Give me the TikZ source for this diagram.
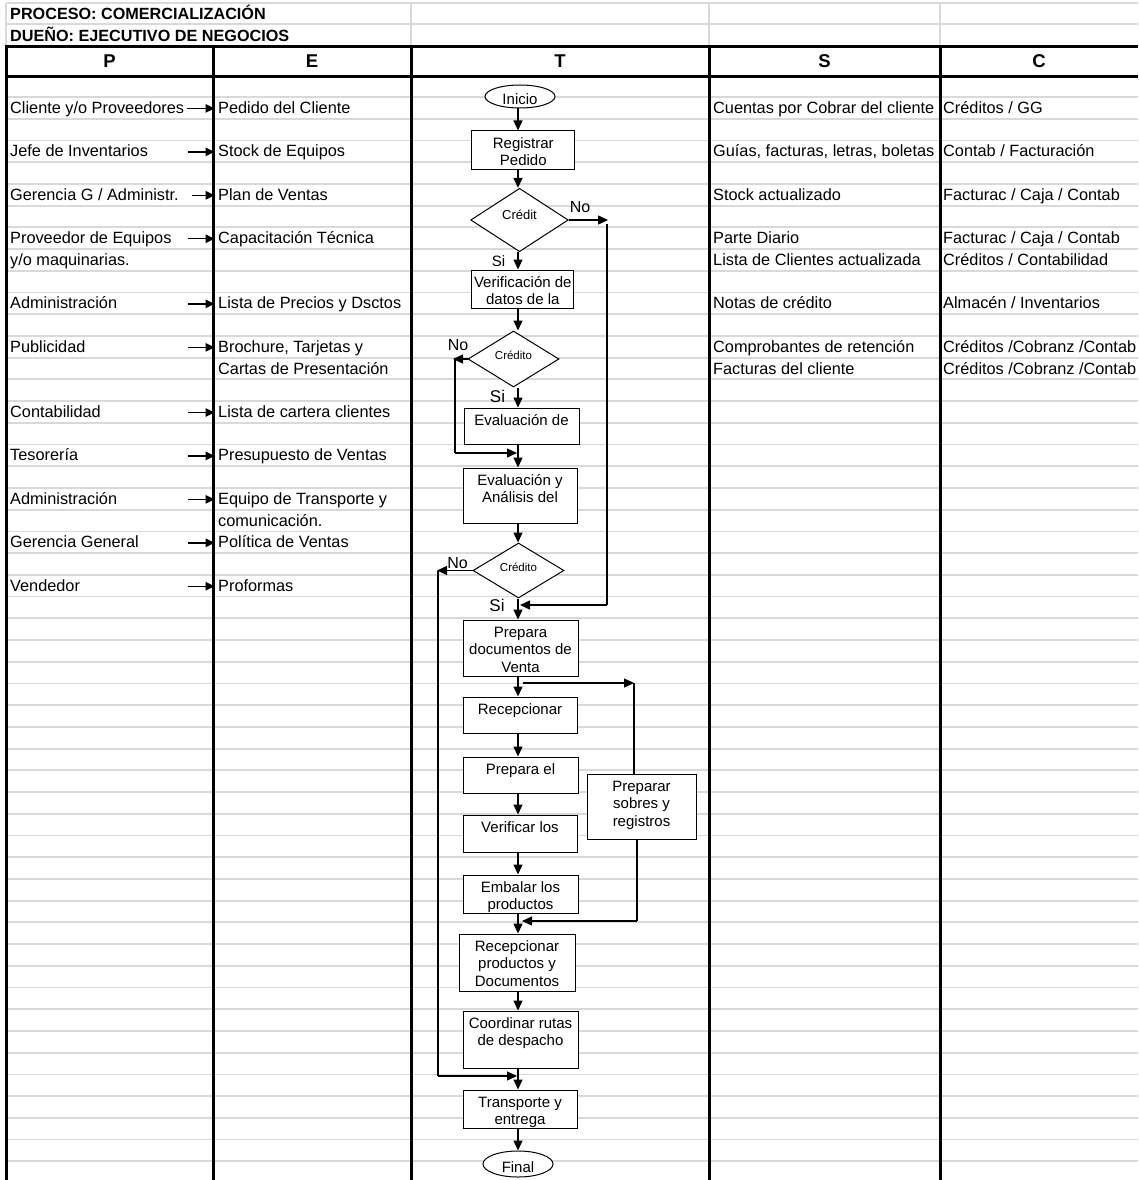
\documentclass[tikz,border=0pt]{standalone}
\usepackage{fontspec}
\setmainfont{Liberation Sans}
\usetikzlibrary{arrows.meta,shapes.geometric,calc}
\definecolor{gridc}{RGB}{217,217,217}
\tikzset{
  gridl/.style={draw=gridc, line width=1.8pt},
  thickl/.style={draw=black, line width=3pt},
  cellt/.style={anchor=base west, inner sep=0pt, font=\fontsize{16.3}{19}\selectfont},
  titlet/.style={anchor=base west, inner sep=0pt, font=\bfseries\fontsize{16.2}{19}\selectfont},
  headt/.style={anchor=base, inner sep=0pt, font=\bfseries\fontsize{18.5}{22}\selectfont},
  parr/.style={line width=1.4pt, -{Triangle[length=9pt,width=8.5pt]}, shorten >=3.5pt},
  box/.style={draw, fill=white, line width=1pt, inner sep=0pt},
  btxt/.style={font=\fontsize{15}{17.5}\selectfont, align=center, inner sep=0pt, anchor=north},
  dia/.style={diamond, draw, fill=white, line width=1pt, inner sep=0pt},
  ell/.style={ellipse, draw, fill=white, line width=1pt, inner sep=0pt},
  etxt/.style={font=\fontsize{15}{17.5}\selectfont, inner sep=0pt},
  dtxt/.style={inner sep=0pt},
  arr/.style={line width=1.4pt, -{Triangle[length=10pt,width=9pt]}},
  ln/.style={line width=1.4pt},
  lab/.style={inner sep=0pt, font=\fontsize{16}{19}\selectfont},
}
\newcommand\prow[5]{%
  \node[cellt] (p#1) at (10,{97+21.72*(#2+1)-5.3}) {#3};
  \node[cellt] (e#1) at (218,{97+21.72*(#2+1)-5.3}) {#4};
  \coordinate (a#1) at (#5,{97+21.72*(#2+1)-10.3});
  \draw[parr] (a#1) -- (a#1 -| e#1.west);
}
\newcommand\srow[4]{%
  \node[cellt] (s#1) at (713,{97+21.72*(#2+1)-5.3}) {#3};
  \node[cellt] (c#1) at (943,{97+21.72*(#2+1)-5.3}) {#4};
}
\begin{document}
\begin{tikzpicture}[x=1pt,y=-1pt]
\useasboundingbox (0,0) rectangle (1138,1180);
\fill[white] (0,0) rectangle (1138,1180);
% grid lines
\foreach \k in {0,...,49} \draw[gridl] (6,{97+21.72*\k}) -- (1138,{97+21.72*\k});
\draw[gridl] (6,3) -- (1138,3);
\draw[gridl] (6,24) -- (1138,24);
\foreach \xx in {6,411,709,940} \draw[gridl] (\xx,3) -- (\xx,47);
% thick lines
\draw[thickl] (4.5,47) -- (1138,47);
\draw[thickl] (4.5,76.5) -- (1138,76.5);
\foreach \xx in {6,213,411,709,940} \draw[thickl] (\xx,47) -- (\xx,1180);
% titles
\node[titlet] (t1) at (10,20) {PROCESO: COMERCIALIZACIÓN};
\node[titlet] (t2) at (10,41.5) {DUEÑO: EJECUTIVO DE NEGOCIOS};
\node[headt] (hP) at (109.5,68) {P};
\node[headt] (hE) at (312,68) {E};
\node[headt] (hT) at (560,68) {T};
\node[headt] (hS) at (824.5,68) {S};
\node[headt] (hC) at (1039,68) {C};
% P and E columns
\prow{0}{0}{Cliente y/o Proveedores}{Pedido del Cliente}{186.5}
\prow{1}{2}{Jefe de Inventarios}{Stock de Equipos}{188}
\prow{2}{4}{Gerencia G / Administr.}{Plan de Ventas}{191.5}
\prow{3}{6}{Proveedor de Equipos}{Capacitación Técnica}{188}
\node[cellt] (p3b) at (10,{97+21.72*8-5.3}) {y/o maquinarias.};
\prow{4}{9}{Administración}{Lista de Precios y Dsctos}{188}
\prow{5}{11}{Publicidad}{Brochure, Tarjetas y}{188}
\node[cellt] (e5b) at (218,{97+21.72*13-5.3}) {Cartas de Presentación};
\prow{6}{14}{Contabilidad}{Lista de cartera clientes}{188}
\prow{7}{16}{Tesorería}{Presupuesto de Ventas}{188}
\prow{8}{18}{Administración}{Equipo de Transporte y}{188}
\node[cellt] (e8b) at (218,{97+21.72*20-5.3}) {comunicación.};
\prow{9}{20}{Gerencia General}{Política de Ventas}{188}
\prow{10}{22}{Vendedor}{Proformas}{188}
% S and C columns
\srow{0}{0}{Cuentas por Cobrar del cliente}{Créditos / GG}
\srow{1}{2}{Guías, facturas, letras, boletas}{Contab / Facturación}
\srow{2}{4}{Stock actualizado}{Facturac / Caja / Contab}
\srow{3}{6}{Parte Diario}{Facturac / Caja / Contab}
\srow{4}{7}{Lista de Clientes actualizada}{Créditos / Contabilidad}
\srow{5}{9}{Notas de crédito}{Almacén / Inventarios}
\srow{6}{11}{Comprobantes de retención}{Créditos /Cobranz /Contab}
\srow{7}{12}{Facturas del cliente}{Créditos /Cobranz /Contab}
% flowchart shapes
\coordinate (mx) at (518,0);
\node[ell, minimum width=70, minimum height=23] (ini) at (520,96.5) {};
\node[etxt] (init) at (520,99) {Inicio};
\node[box, minimum width=103, minimum height=38] (reg) at (523.3,150) {};
\node[btxt] (regt) at ([yshift=-5.5pt]reg.north) {\strut Registrar\\Pedido};
\node[dia, minimum width=97.6, minimum height=63.4] (d1) at (519.5,220) {};
\node[dtxt, font=\fontsize{13}{15}\selectfont] (d1t) at (519.5,215) {Crédit};
\node[box, minimum width=102.3, minimum height=38] (ver) at (522.8,289) {};
\node[btxt] (vert) at ([yshift=-5.5pt]ver.north) {\strut Verificación de\\datos de la};
\node[dia, minimum width=91, minimum height=56] (d2) at (513.5,359) {};
\node[dtxt, font=\fontsize{11.5}{13}\selectfont] (d2t) at (513.5,355) {Crédito};
\node[box, minimum width=115, minimum height=36] (eva) at (521.5,426) {};
\node[btxt] (evat) at ([yshift=-5.5pt]eva.north) {\strut Evaluación de};
\node[box, minimum width=114, minimum height=55] (ean) at (520,495.5) {};
\node[btxt] (eant) at ([yshift=-5.5pt]ean.north) {\strut Evaluación y\\Análisis del};
\node[dia, minimum width=91, minimum height=55] (d3) at (518.5,570.5) {};
\node[dtxt, font=\fontsize{11.5}{13}\selectfont] (d3t) at (518.5,567) {Crédito};
\node[box, minimum width=115, minimum height=56] (pre) at (520.5,648) {};
\node[btxt] (pret) at ([yshift=-5.5pt]pre.north) {\strut Prepara\\documentos de\\Venta};
\node[box, minimum width=114, minimum height=36] (rec) at (520,715) {};
\node[btxt] (rect) at ([yshift=-5.5pt]rec.north) {\strut Recepcionar};
\node[box, minimum width=115, minimum height=36] (pel) at (520.5,775) {};
\node[btxt] (pelt) at ([yshift=-5.5pt]pel.north) {\strut Prepara el};
\node[box, minimum width=114, minimum height=37] (vlo) at (520,833.5) {};
\node[btxt] (vlot) at ([yshift=-5.5pt]vlo.north) {\strut Verificar los};
\node[box, minimum width=115, minimum height=38] (emb) at (520.5,894) {};
\node[btxt] (embt) at ([yshift=-5.5pt]emb.north) {\strut Embalar los\\productos};
\node[box, minimum width=116, minimum height=57] (rpd) at (517,962.5) {};
\node[btxt] (rpdt) at ([yshift=-5.5pt]rpd.north) {\strut Recepcionar\\productos y\\Documentos};
\node[box, minimum width=115, minimum height=57] (coo) at (520.5,1039.5) {};
\node[btxt] (coot) at ([yshift=-5.5pt]coo.north) {\strut Coordinar rutas\\de despacho};
\node[box, minimum width=114, minimum height=38] (tra) at (520,1109) {};
\node[btxt] (trat) at ([yshift=-5.5pt]tra.north) {\strut Transporte y\\entrega};
\node[ell, minimum width=70, minimum height=26] (fin) at (518,1164) {};
\node[etxt] (fint) at (518,1167) {Final};
\node[box, minimum width=109, minimum height=65] (sob) at (641.5,806.5) {};
\node[btxt] (sobt) at ([yshift=-5.5pt]sob.north) {\strut Preparar\\sobres y\\registros};
% main connectors
\draw[arr] (ini.south -| mx) -- (reg.north -| mx);
\draw[arr] (reg.south -| mx) -- (d1.north -| mx);
\draw[arr] (d1.south -| mx) -- (ver.north -| mx);
\draw[arr] (ver.south -| mx) -- (d2.north -| mx);
\draw[arr] (d2.south -| mx) -- (eva.north -| mx);
\draw[arr] (eva.south -| mx) -- (ean.north -| mx);
\draw[arr] (ean.south -| mx) -- (d3.north -| mx);
\draw[arr] (d3.south -| mx) -- (pre.north -| mx);
\draw[arr] (pre.south -| mx) -- (rec.north -| mx);
\draw[arr] (rec.south -| mx) -- (pel.north -| mx);
\draw[arr] (pel.south -| mx) -- (vlo.north -| mx);
\draw[arr] (vlo.south -| mx) -- (emb.north -| mx);
\draw[arr] (emb.south -| mx) -- (rpd.north -| mx);
\draw[arr] (rpd.south -| mx) -- (coo.north -| mx);
\draw[arr] (coo.south -| mx) -- (tra.north -| mx);
\draw[arr] (tra.south -| mx) -- (fin.north -| mx);
% loop 1 (No from d1)
\coordinate (n1a) at (608,220);
\coordinate (n1b) at (607,224);
\coordinate (n1c) at (607,605);
\coordinate (n1d) at (520,605);
\draw[arr] (d1.east) -- (n1a);
\draw[ln] (n1b) -- (n1c);
\draw[arr] (n1c) -- (n1d);
% loop 2 (No from d2)
\coordinate (n2a) at (453,359);
\coordinate (n2b) at (455,359);
\coordinate (n2c) at (455,453);
\coordinate (n2d) at (517,453);
\draw[arr] (d2.west) -- (n2a);
\draw[ln] (n2b) -- (n2c);
\draw[arr] (n2c) -- (n2d);
% loop 3 (No from d3)
\coordinate (n3a) at (437,570.5);
\coordinate (n3b) at (438,570.5);
\coordinate (n3c) at (438,1076);
\coordinate (n3d) at (517,1076);
\draw[arr] (d3.west) -- (n3a);
\draw[ln] (n3b) -- (n3c);
\draw[arr] (n3c) -- (n3d);
% branch to Preparar sobres
\coordinate (n4a) at (523,683);
\coordinate (n4b) at (634,683);
\draw[arr] (n4a) -- (n4b);
\draw[ln] (n4b) -- (sob.north -| n4b);
\coordinate (n5a) at (637,921);
\coordinate (n5b) at (522,921);
\draw[ln] (sob.south -| n5a) -- (n5a);
\draw[arr] (n5a) -- (n5b);
% branch labels
\node[lab] (no1) at (580,207) {No};
\node[lab, font=\fontsize{15}{18}\selectfont] (si1) at (498.5,261) {Si};
\node[lab] (no2) at (458,345) {No};
\node[lab, font=\fontsize{17}{20}\selectfont] (si2) at (497.5,396) {Si};
\node[lab] (no3) at (457.5,563) {No};
\node[lab, font=\fontsize{17}{20}\selectfont] (si3) at (497,605) {Si};
\end{tikzpicture}
\end{document}
